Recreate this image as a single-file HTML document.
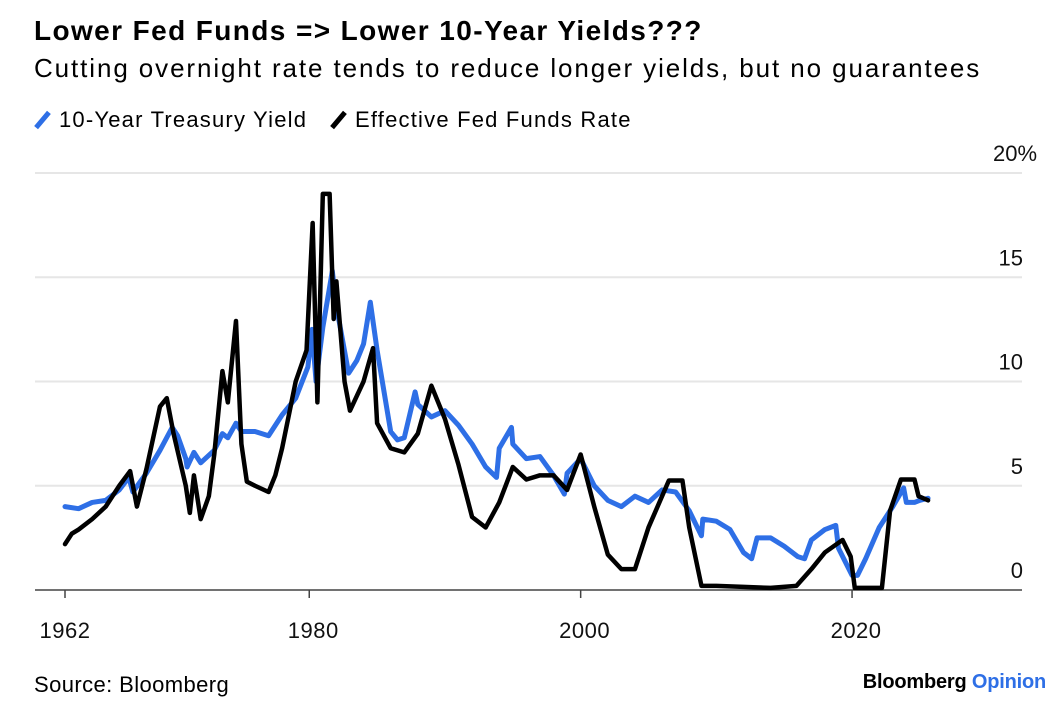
<!DOCTYPE html>
<html><head><meta charset="utf-8"><style>
body{margin:0;background:#fff;font-family:"Liberation Sans",sans-serif;}
#wrap{position:relative;width:1064px;height:712px;overflow:hidden;}
.t{position:absolute;white-space:nowrap;color:#000;}
</style></head><body>
<div id="wrap">
<div class="t" style="left:34px;top:15px;font-size:28px;font-weight:bold;letter-spacing:1.4px;">Lower Fed Funds =&gt; Lower 10-Year Yields???</div>
<div class="t" style="left:34px;top:53px;font-size:26px;letter-spacing:1.9px;">Cutting overnight rate tends to reduce longer yields, but no guarantees</div>
<div class="t" style="left:34px;top:107px;font-size:22px;letter-spacing:1.2px;"><span style="display:inline-block;width:5px;height:20px;background:#2e6fe6;transform:rotate(40deg);margin:0 14px -3px 6px;"></span>10-Year Treasury Yield</div>
<div class="t" style="left:330px;top:107px;font-size:22px;letter-spacing:1.2px;"><span style="display:inline-block;width:5px;height:20px;background:#000;transform:rotate(40deg);margin:0 14px -3px 6px;"></span>Effective Fed Funds Rate</div>
<svg id="chart" width="1064" height="712" style="position:absolute;left:0;top:0;"></svg>
<div class="t" style="left:34px;top:672px;font-size:22px;letter-spacing:0.4px;">Source: Bloomberg</div>
<div class="t" style="right:18px;top:671px;font-size:20px;font-weight:bold;letter-spacing:-0.2px;">Bloomberg <span style="color:#2e6fe6">Opinion</span></div>
</div>
<script>
const yTicks=[0,5,10,15,20];
const yTickLabels=["0","5","10","15","20%"];
const xTicks=[1962,1980,2000,2020];
const tenYearDates=[1962,1963,1964,1965,1966,1966.7,1967,1968,1969,1969.9,1970.3,1970.9,1971,1971.5,1972,1973,1973.6,1974,1974.6,1975,1976,1977,1978,1979,1979.9,1980.2,1980.5,1981,1981.7,1982,1982.9,1983,1983.5,1984,1984.5,1985,1986,1986.5,1987,1987.8,1988,1989,1990,1991,1992,1993,1993.8,1994,1994.9,1995,1996,1997,1998,1998.8,1999,2000,2001,2002,2003,2004,2005,2006,2007,2008,2008.9,2009,2010,2011,2012,2012.6,2013,2014,2015,2016,2016.5,2017,2018,2018.8,2019,2020,2020.4,2021,2022,2023,2023.8,2024,2024.6,2025,2025.6];
const tenYearValues=[4.0,3.9,4.2,4.3,4.8,5.4,4.7,5.6,6.7,7.8,7.4,6.3,5.9,6.6,6.1,6.7,7.5,7.3,8.0,7.6,7.6,7.4,8.4,9.2,10.7,12.5,10.0,12.6,15.3,13.6,10.4,10.5,11.0,11.8,13.8,11.5,7.6,7.2,7.3,9.5,8.9,8.3,8.6,7.9,7.0,5.9,5.4,6.8,7.8,7.0,6.3,6.4,5.5,4.6,5.6,6.3,5.0,4.3,4.0,4.5,4.2,4.8,4.7,3.8,2.6,3.4,3.3,2.9,1.8,1.5,2.5,2.5,2.1,1.6,1.5,2.4,2.9,3.1,2.0,0.7,0.7,1.5,3.0,4.0,4.9,4.2,4.2,4.3,4.4];
const fedDates=[1962,1962.5,1963,1964,1965,1966,1966.8,1967.3,1968,1969,1969.5,1970,1970.9,1971.2,1971.5,1972,1972.6,1973,1973.6,1974,1974.6,1975,1975.4,1976,1977,1977.5,1978,1979,1979.8,1980.25,1980.6,1981,1981.5,1981.8,1982,1982.6,1983,1984,1984.7,1985,1986,1987,1988,1989,1990,1991,1992,1993,1994,1995,1996,1997,1998,1999,2000,2001,2002,2003,2004,2005,2006.5,2007.5,2008,2008.9,2010,2012,2014,2015.9,2017,2018,2019.3,2019.9,2020.2,2022.2,2022.8,2023.6,2024.6,2024.9,2025.6];
const fedValues=[2.2,2.7,2.9,3.4,4.0,5.0,5.7,4.0,5.8,8.8,9.2,7.5,5.0,3.7,5.5,3.4,4.5,6.5,10.5,9.0,12.9,7.0,5.2,5.0,4.7,5.5,6.8,10.0,11.5,17.6,9.0,19.0,19.0,13.0,14.8,10.0,8.6,10.0,11.6,8.0,6.8,6.6,7.5,9.8,8.2,6.0,3.5,3.0,4.2,5.9,5.3,5.5,5.5,4.8,6.5,4.0,1.7,1.0,1.0,3.0,5.25,5.25,3.0,0.2,0.2,0.15,0.1,0.2,1.0,1.8,2.4,1.6,0.1,0.1,3.8,5.3,5.3,4.5,4.3];
const svg=document.getElementById('chart');
const NS='http://www.w3.org/2000/svg';
const x=yr=>65+(yr-1962)*13.57;
const y=v=>590-v*20.85;
function mk(tag,attrs){const e=document.createElementNS(NS,tag);for(const k in attrs)e.setAttribute(k,attrs[k]);svg.appendChild(e);return e;}
yTicks.forEach((t,i)=>{
  if(t>0){const g=mk('line',{x1:35,x2:1022,y1:y(t),y2:y(t),stroke:'#e6e6e6','stroke-width':2});
  
  }
  const tx=mk('text',{x:1023,y:y(t)-12,'font-size':22,'font-family':'Liberation Sans, sans-serif',fill:'#111','text-anchor':'end'});
  tx.textContent=yTickLabels[i];
  if(t===20){tx.setAttribute('text-anchor','start');tx.setAttribute('x',993);}
  
  
});
const ax=mk('line',{x1:35,x2:1022,y1:590,y2:590,stroke:'#444','stroke-width':1.5});


xTicks.forEach(t=>{
  const tk=mk('line',{x1:x(t),x2:x(t),y1:590,y2:598,stroke:'#444','stroke-width':1.5});
  
  
  const tx=mk('text',{x:x(t)+(t===1962?0:4),y:638,'font-size':22,'font-family':'Liberation Sans, sans-serif',fill:'#111','text-anchor':'middle','letter-spacing':'0.5'});
  tx.textContent=t;
  
  
});
function line(d,v,col,w){return mk('polyline',{points:d.map((t,i)=>x(t)+','+y(v[i])).join(' '),fill:'none',stroke:col,'stroke-width':w,'stroke-linejoin':'round','stroke-linecap':'round'});}
const b=line(tenYearDates,tenYearValues,'#2e6fe6',5);


const k=line(fedDates,fedValues,'#000',4.5);


</script>
</body></html>
